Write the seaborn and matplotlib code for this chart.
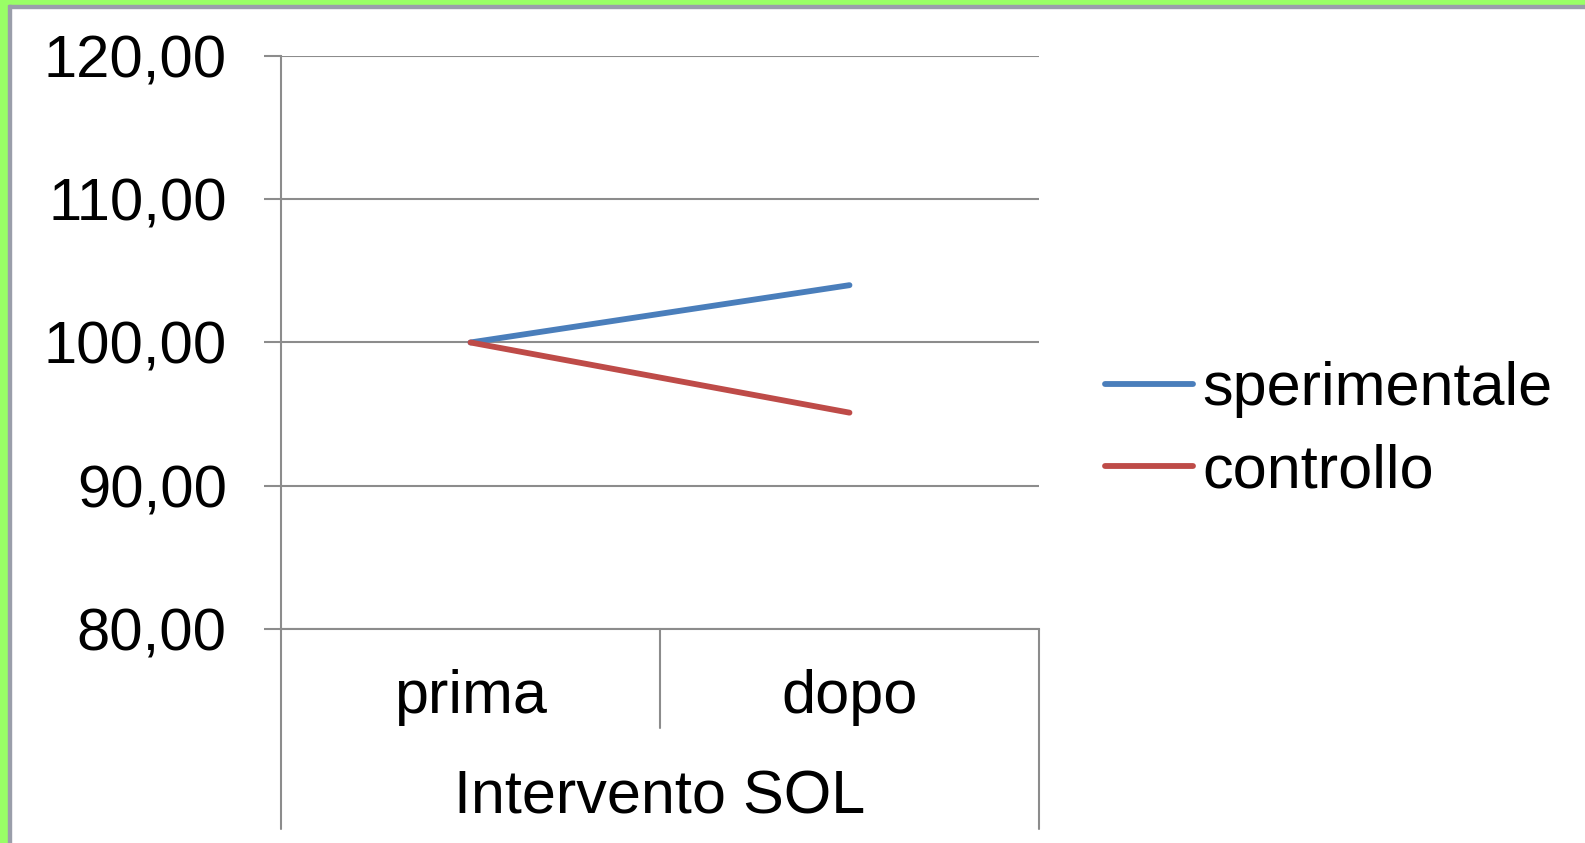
"""
Line chart - Intervento SOL, sperimentale vs controllo.
"""

#Libraries
import numpy as np
import pandas as pd
import matplotlib
matplotlib.use('Agg')
import matplotlib.pyplot as plt
from matplotlib.patches import Rectangle
import seaborn as sns

#Data
fasi = ['prima', 'dopo']
gruppi = ['sperimentale', 'controllo']
sperimentale = [100.0, 104.0]
controllo = [100.0, 95.1]
y_ticks = [80, 90, 100, 110, 120]
colori = ['#4A7EBB', '#BE4B48']

df = pd.DataFrame({
    'fase': fasi * 2,
    'gruppo': [gruppi[0]] * len(fasi) + [gruppi[1]] * len(fasi),
    'valore': sperimentale + controllo,
})

#Style
sns.set_style('white')
plt.rcParams['font.family'] = ['Liberation Sans', 'DejaVu Sans']
plt.rcParams['text.color'] = 'black'
plt.rcParams['xtick.color'] = 'black'
plt.rcParams['ytick.color'] = 'black'
plt.rcParams['axes.labelcolor'] = 'black'
grigio = '#8C8C8C'
fs = 44
lw = 4.2

fig = plt.figure(figsize=(15.85, 8.43), dpi=100)
ax = fig.add_axes([0.1773, 0.2539, 0.6555 - 0.1773, 0.9336 - 0.2539])

sns.lineplot(data=df, x='fase', y='valore', hue='gruppo', hue_order=gruppi,
             palette=colori, linewidth=lw, sort=False, ax=ax)

ax.set_xlim(-0.5, len(fasi) - 0.5)
ax.set_ylim(y_ticks[0], y_ticks[-1])
ax.set_yticks(y_ticks)
ax.set_yticklabels([f'{v:.2f}'.replace('.', ',') for v in y_ticks], fontsize=43)
ax.yaxis.grid(True, color=grigio, linewidth=1.5)
ax.set_axisbelow(True)
ax.tick_params(axis='y', direction='out', length=12, width=1.5, color=grigio, pad=27, left=True)
ax.tick_params(axis='x', length=0, labelsize=fs, pad=29)
ax.set_ylabel('')
ax.set_xlabel('Intervento SOL', fontsize=fs, labelpad=31)

for side in ['top', 'right']:
    ax.spines[side].set_visible(False)
for side in ['left', 'bottom']:
    ax.spines[side].set_color(grigio)
    ax.spines[side].set_linewidth(1.5)

#Category dividers below the axis (multi-level category axis)
bordi = np.arange(len(fasi) + 1) - 0.5
trans = ax.get_xaxis_transform()
for i, b in enumerate(bordi):
    fondo = -0.349 if i in (0, len(bordi) - 1) else -0.173
    ax.plot([b, b], [0, fondo], color=grigio, linewidth=1.5, transform=trans, clip_on=False)

#Legend
leg = ax.legend(loc='center left', bbox_to_anchor=(0.697, 0.489), bbox_transform=fig.transFigure,
                frameon=False, fontsize=fs, handlelength=1.45, handletextpad=0.15,
                borderpad=0, borderaxespad=0, labelspacing=0.42)
for line in leg.get_lines():
    line.set_linewidth(lw)

#Frame border (green with grey inner line, top and left only)
W, H = 1585, 843
fig.patches.append(Rectangle((0, 1 - 5 / H), 1, 5 / H, transform=fig.transFigure, color='#99FF66', zorder=0))
fig.patches.append(Rectangle((0, 1 - 7.5 / H), 1, 2.5 / H, transform=fig.transFigure, color='#9A9EAA', zorder=0))
fig.patches.append(Rectangle((0, 0), 7.5 / W, 1, transform=fig.transFigure, color='#99FF66', zorder=0))
fig.patches.append(Rectangle((7.5 / W, 0), 3 / W, 1 - 5 / H, transform=fig.transFigure, color='#9A9EAA', zorder=0))

fig.savefig('out.png', dpi=100)
